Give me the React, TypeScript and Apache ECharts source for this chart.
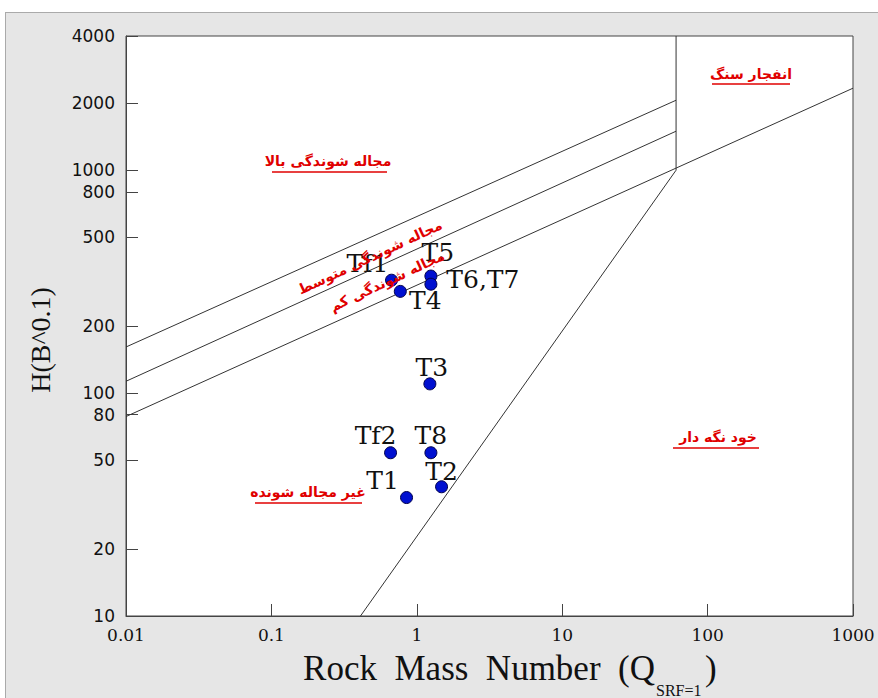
import React, { useEffect, useRef } from "react";
import * as echarts from "echarts";

// ---- data ----
const sampleNames = ["Tf1", "T5", "T6,T7", "T4", "T3", "Tf2", "T8", "T2", "T1"];
const rockMassQ = [0.67, 1.25, 1.25, 0.77, 1.23, 0.66, 1.25, 1.48, 0.85];
const heightHB = [321, 335, 308, 286, 110, 54, 54, 38, 34];

const highSqueezeLine = [[0.01, 161], [60.7, 2060]];
const midSqueezeLine = [[0.01, 113], [60.7, 1496]];
const lowSqueezeLine = [[0.01, 78.5], [1000, 2333]];
const rockBurstLine = [[60.7, 1000], [60.7, 4000]];
const selfSupportLine = [[0.41, 10], [60.7, 1000]];

const xTickValues = [0.01, 0.1, 1, 10, 100, 1000];
const yTickValues = [10, 20, 50, 80, 100, 200, 500, 800, 1000, 2000, 4000];

// label placement per sample (pixels relative to the point)
const labelOffsets: Record<string, number[]> = {
  Tf1: [-24, -17],
  T5: [7, -24],
  "T6,T7": [52, -5],
  T4: [25, 9],
  T3: [2, -16],
  Tf2: [-15, -17],
  T8: [0, -17],
  T2: [0, -15],
  T1: [-24, -17],
};

const RED = "#e00000";
const persianFont = '"DejaVu Sans"';
const titleFont = '"Liberation Serif"';

function annot(text: string, x: number, y: number, uw: number, ux: number, uy: number, rot = 0) {
  const els: any[] = [
    {
      type: "text",
      x,
      y,
      rotation: rot,
      z: 20,
      style: {
        text,
        fill: RED,
        fontFamily: persianFont,
        fontWeight: "bold",
        fontSize: 14,
        align: "center",
        verticalAlign: "middle",
      },
    },
  ];
  if (uw > 0) {
    els.push({
      type: "line",
      z: 20,
      shape: { x1: ux, y1: uy, x2: ux + uw, y2: uy },
      style: { stroke: RED, lineWidth: 1.5 },
    });
  }
  return els;
}

export default function App() {
  const ref = useRef<HTMLDivElement>(null);
  useEffect(() => {
    if (!ref.current) return;
    const chart = echarts.init(ref.current, undefined, { renderer: "svg" });
    const lineStyle = { color: "#333", width: 1 };
    const mkLine = (data: number[][]) => ({
      type: "line",
      data,
      showSymbol: false,
      symbol: "none",
      silent: true,
      lineStyle,
      z: 2,
    });
    chart.setOption({
      animation: false,
      backgroundColor: "transparent",
      grid: {
        left: 126,
        right: 25,
        top: 36,
        bottom: 82,
        show: true,
        backgroundColor: "#ffffff",
        borderColor: "#444",
        borderWidth: 1,
      },
      xAxis: {
        type: "log",
        logBase: 10,
        min: 0.01,
        max: 1000,
        axisLine: { show: true, lineStyle: { color: "#444" } },
        axisTick: { show: true, inside: true, length: 12, lineStyle: { color: "#444" }, customValues: xTickValues },
        axisLabel: {
          customValues: xTickValues,
          margin: 10,
          fontFamily: '"DejaVu Serif"',
          fontSize: 17,
          color: "#111",
          formatter: (v: number) => String(+v.toPrecision(6)),
        },
        splitLine: { show: false },
        minorTick: { show: false },
      },
      yAxis: {
        type: "log",
        logBase: 10,
        min: 10,
        max: 4000,
        axisLine: { show: true, lineStyle: { color: "#444" } },
        axisTick: { show: true, inside: true, length: 12, lineStyle: { color: "#444" }, customValues: yTickValues },
        axisLabel: {
          customValues: yTickValues,
          margin: 11,
          fontFamily: '"DejaVu Sans"',
          fontSize: 17,
          color: "#111",
          formatter: (v: number) => String(Math.round(v)),
        },
        splitLine: { show: false },
      },
      series: [
        mkLine(highSqueezeLine),
        mkLine(midSqueezeLine),
        mkLine(lowSqueezeLine),
        mkLine(rockBurstLine),
        mkLine(selfSupportLine),
        {
          type: "scatter",
          z: 5,
          symbol: "circle",
          symbolSize: 12,
          itemStyle: { color: "#0010d0", borderColor: "#00004a", borderWidth: 1, opacity: 1 },
          data: sampleNames.map((n, i) => ({
            name: n,
            value: [rockMassQ[i], heightHB[i]],
            label: {
              show: true,
              position: "inside",
              offset: labelOffsets[n],
              formatter: n,
              fontFamily: '"DejaVu Serif"',
              fontSize: 25,
              color: "#111",
            },
          })),
        },
      ],
      graphic: [
        // axis names
        {
          type: "text",
          x: 40,
          y: 340,
          rotation: Math.PI / 2,
          style: {
            text: "H(B^0.1)",
            fontFamily: titleFont,
            fontSize: 28,
            fill: "#111",
            align: "center",
            verticalAlign: "middle",
          },
        },
        {
          type: "text",
          x: 655,
          y: 668,
          style: {
            text: "Rock  Mass  Number  (Q",
            fontFamily: titleFont,
            fontSize: 35,
            fill: "#111",
            align: "right",
            verticalAlign: "middle",
          },
        },
        {
          type: "text",
          x: 656,
          y: 690,
          style: {
            text: "SRF=1",
            fontFamily: titleFont,
            fontSize: 16,
            fill: "#111",
            align: "left",
            verticalAlign: "middle",
          },
        },
        {
          type: "text",
          x: 705,
          y: 668,
          style: {
            text: ")",
            fontFamily: titleFont,
            fontSize: 35,
            fill: "#111",
            align: "left",
            verticalAlign: "middle",
          },
        },
        ...annot("انفجار سنگ", 751, 74, 78, 712, 84),
        ...annot("مجاله شوندگی بالا", 328, 161, 115, 272, 172),
        ...annot("خود نگه دار", 718, 437, 86, 673, 448),
        ...annot("غیر مجاله شونده", 308, 492, 107, 255, 503),
        ...annot("مجاله شوندگی متوسط", 370, 257, 0, 0, 0, (25 * Math.PI) / 180),
        ...annot("مجاله شوندگی کم", 387, 281, 0, 0, 0, (25 * Math.PI) / 180),
      ],
    });
    return () => chart.dispose();
  }, []);
  return (
    <div style={{ position: "absolute", left: 0, top: 0, width: 878, height: 698, background: "#ffffff", overflow: "hidden" }}>
      <div
        style={{
          position: "absolute",
          left: 5,
          top: 12,
          right: 0,
          bottom: 0,
          background: "#e6e6e6",
          borderLeft: "1px solid #aaaaaa",
          borderTop: "1px solid #aaaaaa",
        }}
      />
      <div ref={ref} style={{ position: "absolute", left: 0, top: 0, width: 878, height: 698 }} />
    </div>
  );
}
